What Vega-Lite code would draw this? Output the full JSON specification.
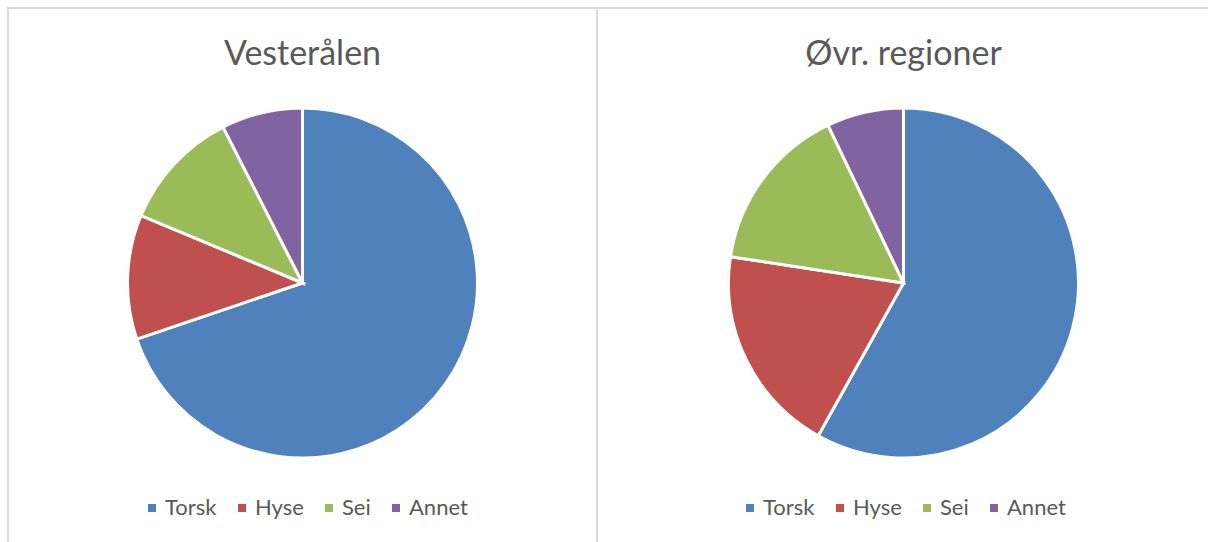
{
  "$schema": "https://vega.github.io/schema/vega-lite/v6.json",
  "padding": {"left": 7, "top": 7, "right": 0, "bottom": 0},
  "background": "white",
  "datasets": {
    "fangst": [
      {"region": "Vesterålen", "art": "Torsk", "rekkefolge": 1, "andel": 69.8},
      {"region": "Vesterålen", "art": "Hyse", "rekkefolge": 2, "andel": 11.5},
      {"region": "Vesterålen", "art": "Sei", "rekkefolge": 3, "andel": 11.2},
      {"region": "Vesterålen", "art": "Annet", "rekkefolge": 4, "andel": 7.5},
      {"region": "Øvr. regioner", "art": "Torsk", "rekkefolge": 1, "andel": 58.1},
      {"region": "Øvr. regioner", "art": "Hyse", "rekkefolge": 2, "andel": 19.3},
      {"region": "Øvr. regioner", "art": "Sei", "rekkefolge": 3, "andel": 15.5},
      {"region": "Øvr. regioner", "art": "Annet", "rekkefolge": 4, "andel": 7.1}
    ]
  },
  "config": {
    "view": {"stroke": "#d9d9d9", "strokeWidth": 2},
    "font": "Lato",
    "title": {"font": "Lato", "fontSize": 34, "fontWeight": "normal", "color": "#595959", "anchor": "middle"},
    "legend": {
      "labelFont": "Lato", "labelFontSize": 22, "labelColor": "#595959",
      "symbolType": "square", "symbolSize": 64, "symbolStrokeWidth": 0,
      "labelOffset": 2, "columnPadding": 14, "direction": "horizontal",
      "orient": "none", "title": null
    }
  },
  "spacing": -2,
  "resolve": {"scale": {"color": "independent"}},
  "hconcat": [
    {
      "width": 589,
      "height": 550,
      "view": {"stroke": "#d9d9d9", "strokeWidth": 2, "fill": "white"},
      "title": {"text": "Vesterålen", "offset": -64},
      "data": {"name": "fangst"},
      "transform": [{"filter": "datum.region === 'Vesterålen'"}],
      "mark": {"type": "arc", "outerRadius": 175, "stroke": "white", "strokeWidth": 3},
      "encoding": {
        "theta": {"field": "andel", "type": "quantitative", "stack": true},
        "order": {"field": "rekkefolge", "type": "quantitative"},
        "color": {
          "field": "art", "type": "nominal",
          "scale": {"domain": ["Torsk", "Hyse", "Sei", "Annet"], "range": ["#4F81BD", "#C0504D", "#9BBB59", "#8064A2"]},
          "legend": {"legendX": 133, "legendY": 489}
        }
      }
    },
    {
      "width": 611,
      "height": 550,
      "view": {"stroke": "#d9d9d9", "strokeWidth": 2, "fill": "white", "strokeDash": [611, 3000]},
      "title": {"text": "Øvr. regioner", "offset": -64},
      "data": {"name": "fangst"},
      "transform": [{"filter": "datum.region === 'Øvr. regioner'"}],
      "mark": {"type": "arc", "outerRadius": 175, "stroke": "white", "strokeWidth": 3},
      "encoding": {
        "theta": {"field": "andel", "type": "quantitative", "stack": true},
        "order": {"field": "rekkefolge", "type": "quantitative"},
        "color": {
          "field": "art", "type": "nominal",
          "scale": {"domain": ["Torsk", "Hyse", "Sei", "Annet"], "range": ["#4F81BD", "#C0504D", "#9BBB59", "#8064A2"]},
          "legend": {"legendX": 141, "legendY": 489}
        }
      }
    }
  ]
}
